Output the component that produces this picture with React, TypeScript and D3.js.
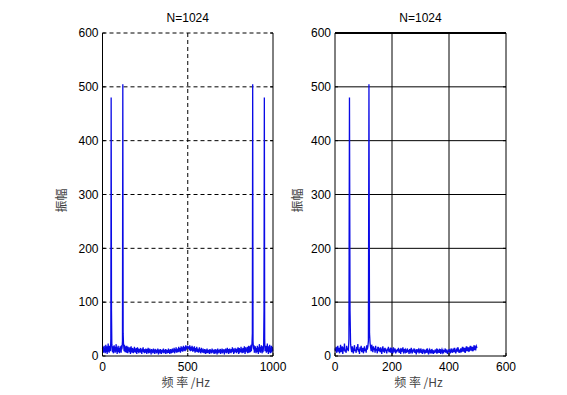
import React from 'react';
import * as d3 from 'd3';

// half spectrum |X(k)|, k = 0..256, fs = 1000 Hz, 512 points (bin = 1000/512 Hz)
const halfSpectrum = [
  14, 9, 17, 6, 12, 19, 8, 15, 5, 11, 21, 7, 13, 18, 4, 16, 10, 23, 8, 12,
  6, 19, 11, 15, 9, 32, 480, 84, 22, 13,
  7, 18, 10, 5, 14, 20, 9, 12, 6, 17, 11, 22, 8, 13, 4, 16, 10, 19, 7, 12,
  15, 5, 11, 18, 9, 14, 6, 20, 12, 17, 28, 505, 42, 24, 16, 9, 21, 13, 7, 18,
  11, 15, 6, 19, 10, 13, 5, 17, 9, 14, 12, 7, 16, 10, 4, 13, 18, 8, 11, 6,
  15, 9, 12, 5, 14, 10, 17, 7, 11, 13, 6, 15, 9, 4, 12, 16, 8, 10, 14, 5,
  11, 7, 13, 9, 15, 6, 10, 12, 4, 14, 8, 11, 16, 7, 9, 13, 5, 12, 10, 6,
  14, 8, 11, 4, 13, 9, 7, 15, 10, 5, 12, 8, 14, 6, 11, 9, 3, 13, 7, 10,
  12, 5, 9, 14, 6, 11, 8, 4, 13, 10, 7, 12, 5, 9, 11, 6, 14, 8, 3, 10,
  12, 7, 9, 5, 13, 8, 11, 4, 10, 6, 12, 9, 7, 14, 5, 10, 8, 11, 6, 13,
  4, 9, 12, 7, 10, 5, 11, 8, 14, 6, 9, 12, 4, 10, 7, 13, 8, 5, 11, 9,
  14, 6, 10, 12, 7, 15, 9, 5, 11, 13, 8, 16, 10, 6, 12, 9, 14, 7, 11, 17,
  8, 13, 10, 15, 6, 12, 18, 9, 14, 11, 16, 8, 13, 19, 10, 15, 12, 17, 9, 14,
  20, 11, 16, 13, 18, 15, 17,
];
const fs = 1000;
const nPoints = 512;
const title = 'N=1024';
const yTicks = [0, 100, 200, 300, 400, 500, 600];
const leftXTicks = [0, 500, 1000];
const rightXTicks = [0, 200, 400, 600];
const yLabel = '振幅';
const xLabel = '频 率 /Hz';

// full spectrum is the mirror of the half one (real signal)
const fullSpectrum = halfSpectrum.concat(halfSpectrum.slice(1, 256).reverse());
const fullData = fullSpectrum.map((v, i) => ({ f: (i * fs) / nPoints, v }));
const halfData = fullData.slice(0, nPoints / 2);

const top = 33;
const bottom = 356;
const tickFont = '"Liberation Sans", Arial, sans-serif';
const cjkFont = '"Noto Sans CJK SC", sans-serif';

type PanelProps = {
  x0: number;
  x1: number;
  xMax: number;
  xTicks: number[];
  data: { f: number; v: number }[];
  dashed: boolean;
  yLabelX: number;
};

const Panel = ({ x0, x1, xMax, xTicks, data, dashed, yLabelX }: PanelProps) => {
  const x = d3.scaleLinear().domain([0, xMax]).range([x0, x1]);
  const y = d3.scaleLinear().domain([0, 600]).range([bottom, top]);
  const line = d3.line<{ f: number; v: number }>()
    .x(d => x(d.f))
    .y(d => y(d.v));
  const gridDash = dashed ? '4,3' : undefined;
  const cx = (x0 + x1) / 2;

  return (
    <g>
      {/* grid */}
      {yTicks.filter(t => t > 0 && t < 600).map(t => (
        <line key={'gy' + t} x1={x0} x2={x1} y1={y(t)} y2={y(t)} stroke="#000" strokeWidth={1} strokeDasharray={gridDash} />
      ))}
      {xTicks.filter(t => t > 0 && t < xMax).map(t => (
        <line key={'gx' + t} x1={x(t)} x2={x(t)} y1={top} y2={bottom} stroke="#000" strokeWidth={1} strokeDasharray={gridDash} />
      ))}
      {/* data */}
      <path d={line(data) || ''} fill="none" stroke="#0a0ae6" strokeWidth={1.3} />
      {/* box */}
      <line x1={x0} x2={x0} y1={top} y2={bottom} stroke="#000" />
      <line x1={x0} x2={x1} y1={bottom} y2={bottom} stroke="#000" />
      <line x1={x1} x2={x1} y1={top} y2={bottom} stroke="#000" />
      <line x1={x0} x2={x1} y1={top} y2={top} stroke="#000" strokeWidth={dashed ? 1 : 2} strokeDasharray={gridDash} />
      {/* ticks */}
      {yTicks.map(t => (
        <g key={'yt' + t}>
          <line x1={x0} x2={x0 + 3} y1={y(t)} y2={y(t)} stroke="#000" />
          <line x1={x1} x2={x1 - 3} y1={y(t)} y2={y(t)} stroke="#000" />
          <text x={x0 - 4} y={y(t)} dy="0.35em" textAnchor="end" fontFamily={tickFont} fontSize={12}>{t}</text>
        </g>
      ))}
      {xTicks.map(t => (
        <g key={'xt' + t}>
          <line x1={x(t)} x2={x(t)} y1={bottom} y2={bottom - 3} stroke="#000" />
          <text x={x(t)} y={bottom + 15} textAnchor="middle" fontFamily={tickFont} fontSize={12}>{t}</text>
        </g>
      ))}
      <text x={cx} y={22} textAnchor="middle" fontFamily={tickFont} fontSize={12}>{title}</text>
      <text x={cx - 2} y={387} textAnchor="middle" fontFamily={cjkFont} fontSize={12} fill="#444">{xLabel}</text>
      <text transform={`translate(${yLabelX},${(top + bottom) / 2 + 6}) rotate(-90)`} textAnchor="middle" fontFamily={cjkFont} fontSize={12} fill="#444">{yLabel}</text>
    </g>
  );
};

export default function App() {
  return (
    <svg width={567} height={395} style={{ position: 'absolute', left: 0, top: 0, background: '#fff' }}>
      <rect width={567} height={395} fill="#fff" />
      <Panel x0={102.5} x1={273} xMax={1000} xTicks={leftXTicks} data={fullData} dashed yLabelX={66} />
      <Panel x0={335} x1={506} xMax={600} xTicks={rightXTicks} data={halfData} dashed={false} yLabelX={302} />
    </svg>
  );
}
